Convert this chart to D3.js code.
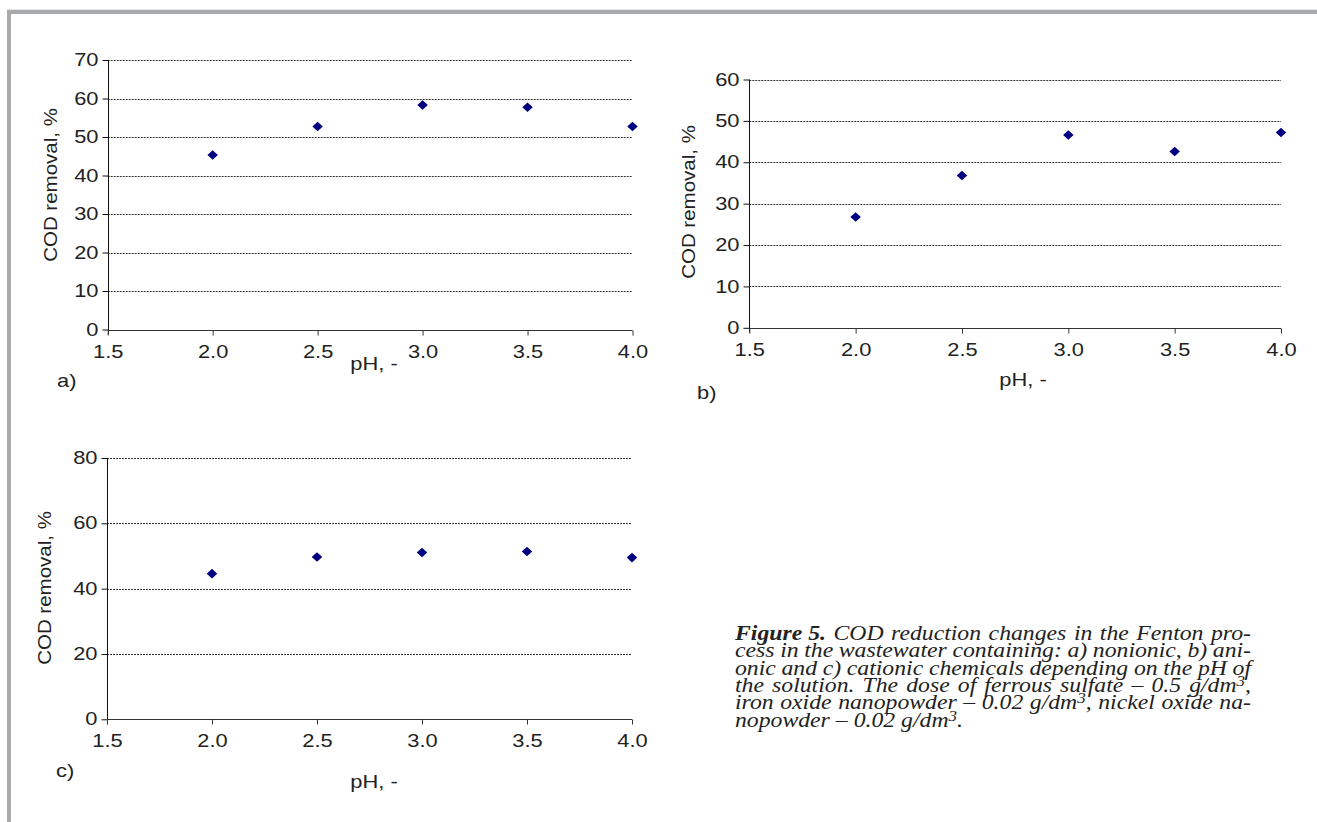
<!DOCTYPE html>
<html><head><meta charset="utf-8">
<script src="https://cdn.jsdelivr.net/npm/d3@7"></script>
<style>
html,body{margin:0;padding:0;background:#fff;}
svg{display:block;}
</style></head>
<body>
<svg id="chart" width="1317" height="822"></svg>
<script>
// ---- data ----
const phValues = [2.0, 2.5, 3.0, 3.5, 4.0];
const xTicks = [1.5, 2.0, 2.5, 3.0, 3.5, 4.0];
const codA = [45.3, 52.7, 58.3, 57.7, 52.7];   // a) nonionic
const codB = [26.8, 36.8, 46.6, 42.6, 47.2];   // b) anionic
const codC = [44.6, 49.7, 51.1, 51.4, 49.5];   // c) cationic
const yTicksA = [0, 10, 20, 30, 40, 50, 60, 70];
const yTicksB = [0, 10, 20, 30, 40, 50, 60];
const yTicksC = [0, 20, 40, 60, 80];
const panelLabels = ["a)", "b)", "c)"];
const yTitle = "COD removal, %";
const xTitle = "pH, -";
const captionLines = [
  "@Figure 5.@ COD reduction changes in the Fenton pro-",
  "cess in the wastewater containing: a) nonionic, b) ani-",
  "onic and c) cationic chemicals depending on the pH of",
  "the solution. The dose of ferrous sulfate – 0.5 g/dm|3|,",
  "iron oxide nanopowder – 0.02 g/dm|3|, nickel oxide na-",
  "nopowder – 0.02 g/dm|3|."
];

const svg = d3.select("#chart");

// frame (gray border top and left)
svg.append("rect").attr("x",7).attr("y",9).attr("width",1310).attr("height",1).attr("fill","#e6e6e6");
svg.append("rect").attr("x",7).attr("y",10).attr("width",1310).attr("height",4).attr("fill","#a9aaac");
svg.append("rect").attr("x",7).attr("y",10).attr("width",4).attr("height",812).attr("fill","#a9aaac");

const panels = [
  {data: codA, yTicks: yTicksA, ymax: 70, x0: 107.7, x1: 632.5, yTop: 60, yBot: 329.5,
   yTitleX: 52, yTitleY: 185, xTitleX: 374, xTitleY: 370, lab: panelLabels[0], labX: 57, labY: 387},
  {data: codB, yTicks: yTicksB, ymax: 60, x0: 749.3, x1: 1281, yTop: 79.5, yBot: 327.8,
   yTitleX: 690, yTitleY: 202, xTitleX: 1023, xTitleY: 386, lab: panelLabels[1], labX: 697, labY: 399},
  {data: codC, yTicks: yTicksC, ymax: 80, x0: 107, x1: 632, yTop: 458, yBot: 719.3,
   yTitleX: 46, yTitleY: 588, xTitleX: 374, xTitleY: 788, lab: panelLabels[2], labX: 56, labY: 777}
];

const fontSans = "Arial, 'Liberation Sans', sans-serif";
const hFont = 17.5, sx = 1.25, titleFont = 20.5;

function stretch(sel) {
  sel.each(function() {
    const t = d3.select(this);
    const x = +t.attr("x") || 0;
    t.attr("x", 0).attr("transform", `translate(${x},0) scale(${sx},1)`);
  });
}

panels.forEach(p => {
  const x = d3.scaleLinear().domain([1.5, 4.0]).range([p.x0, p.x1]);
  const y = d3.scaleLinear().domain([0, p.ymax]).range([p.yBot, p.yTop]);
  const g = svg.append("g");

  // gridlines
  g.selectAll("line.grid").data(p.yTicks.filter(t => t > 0)).enter().append("line")
    .attr("x1", p.x0).attr("x2", p.x1)
    .attr("y1", d => Math.round(y(d)) + 0.5).attr("y2", d => Math.round(y(d)) + 0.5)
    .attr("stroke", "#333").attr("stroke-width", 1).attr("stroke-dasharray", "2,1");

  // y axis
  const ya = g.append("g").attr("transform", `translate(${Math.round(p.x0)+0.5},0)`)
    .call(d3.axisLeft(y).tickValues(p.yTicks).tickSize(6).tickPadding(4).tickFormat(d3.format("d")));
  ya.select(".domain").attr("stroke", "#111").attr("d", `M0,${y(p.ymax)}V${y(0)+5}`);
  ya.selectAll(".tick line").attr("stroke", "#111");
  ya.selectAll("text").attr("font-family", fontSans).attr("font-size", hFont).attr("fill", "#222");
  stretch(ya.selectAll("text"));

  // x axis
  const xa = g.append("g").attr("transform", `translate(0,${Math.round(p.yBot)+0.5})`)
    .call(d3.axisBottom(x).tickValues(xTicks).tickSize(5).tickPadding(10).tickFormat(d3.format(".1f")));
  xa.select(".domain").attr("stroke", "#333").attr("d", `M${p.x0},0H${p.x1}`);
  xa.selectAll(".tick line").attr("stroke", "#333");
  xa.selectAll("text").attr("font-family", fontSans).attr("font-size", hFont).attr("fill", "#222");
  stretch(xa.selectAll("text"));

  // markers
  g.selectAll("path.pt").data(p.data).enter().append("path")
    .attr("d", d3.symbol().type(d3.symbolDiamond2).size(64))
    .attr("transform", (d, i) => `translate(${x(phValues[i])},${y(d)}) scale(1.05,0.95)`)
    .attr("fill", "#000080");

  // titles
  g.append("text").attr("transform", `translate(${p.yTitleX},${p.yTitleY}) rotate(-90) scale(1,0.85)`)
    .attr("text-anchor", "middle").attr("dominant-baseline", "middle")
    .attr("font-family", fontSans).attr("font-size", titleFont).attr("fill", "#222").text(yTitle);
  g.append("text").attr("transform", `translate(${p.xTitleX},${p.xTitleY}) scale(${sx},1)`)
    .attr("text-anchor", "middle")
    .attr("font-family", fontSans).attr("font-size", hFont).attr("fill", "#222").text(xTitle);
  g.append("text").attr("transform", `translate(${p.labX},${p.labY}) scale(${sx},1)`)
    .attr("font-family", fontSans).attr("font-size", hFont).attr("fill", "#222").text(p.lab);
});

// caption: justified by word spacing
const capFont = 21, capSx = 1.13;
const cap = svg.append("g").attr("font-family", "'Liberation Serif', 'Times New Roman', serif")
  .attr("font-size", capFont).attr("font-style", "italic").attr("fill", "#222");
const capX = 735, capW = 516, cap0 = 640, capDy = 17.3;

function buildWord(parent, word) {
  const t = parent.append("text");
  const re = /(@[^@]*@|\|[^|]*\|)/g;
  const parts = word.split(re).filter(s => s.length);
  let sup = false;
  parts.forEach(s => {
    if (s.startsWith("@")) {
      t.append("tspan").attr("font-weight", "bold").text(s.slice(1, -1));
    } else if (s.startsWith("|")) {
      t.append("tspan").attr("font-size", 15).attr("dy", -6).text(s.slice(1, -1));
      sup = true;
    } else {
      const ts = t.append("tspan").text(s);
      if (sup) { ts.attr("dy", 6); sup = false; }
    }
  });
  return t;
}

captionLines.forEach((line, i) => {
  const tokens = line.replace("@Figure 5.@", "@Figure\u00a05.@").split(" ").map(w => w.replace("\u00a0", " "));
  const y0 = cap0 + i * capDy;
  const words = tokens.map(w => {
    const t = buildWord(cap, w).attr("y", 0).attr("x", 0);
    return {t, w: t.node().getComputedTextLength()};
  });
  const total = d3.sum(words, d => d.w);
  let s = capSx;
  let gap = capFont * 0.25 * s;
  if (i < captionLines.length - 1 && words.length > 1) {
    gap = (capW - total * s) / (words.length - 1);
    if (gap < 3) {
      gap = 3;
      s = (capW - gap * (words.length - 1)) / total;
    }
  }
  let xx = capX;
  words.forEach(d => {
    d.t.attr("transform", `translate(${xx},${y0}) scale(${s},1)`);
    xx += d.w * s + gap;
  });
});
</script>
</body></html>
